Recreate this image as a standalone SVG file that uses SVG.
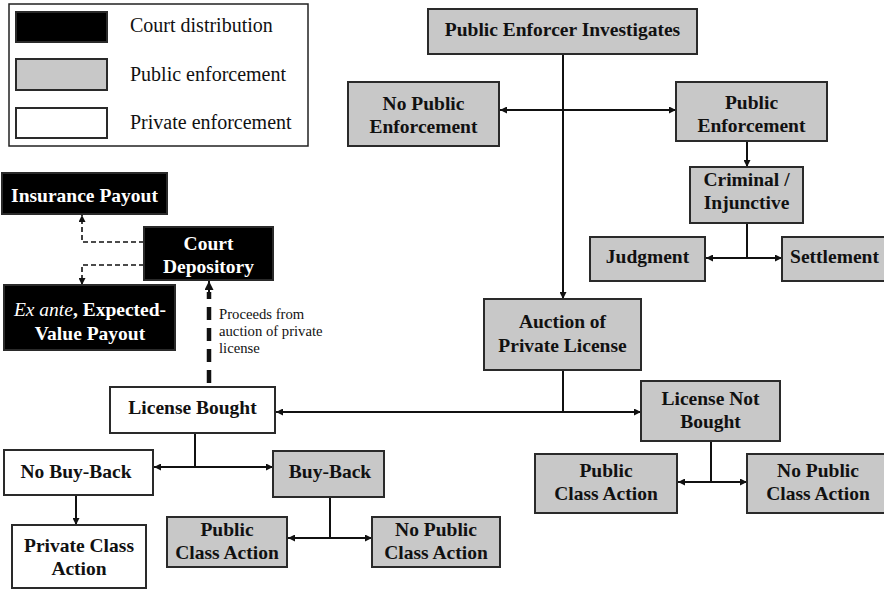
<svg xmlns="http://www.w3.org/2000/svg" width="884" height="589" viewBox="0 0 884 589">
<defs>
<style>
.box{stroke:#2a2a2a;stroke-width:2}
.g{fill:#c8c8c8}
.w{fill:#ffffff}
.k{fill:#000000}
.t{font-family:"Liberation Serif","Times New Roman",serif;font-size:19.5px;font-weight:bold;fill:#111;text-anchor:middle}
.tw{fill:#ffffff}
.lg{font-family:"Liberation Serif","Times New Roman",serif;font-size:20px;fill:#111}
.note{font-family:"Liberation Serif","Times New Roman",serif;font-size:14.7px;fill:#111}
.c{fill:none;stroke:#111;stroke-width:2}
.d{fill:none;stroke:#111;stroke-width:1.6;stroke-dasharray:5 3}
.dt{fill:none;stroke:#111;stroke-width:4.5;stroke-dasharray:13 8}
</style>
<marker id="a" viewBox="0 0 10 10" refX="10" refY="5" markerWidth="9" markerHeight="7" markerUnits="userSpaceOnUse" orient="auto-start-reverse">
<path d="M0,0 L10,5 L0,10 z" fill="#111"/>
</marker>
<marker id="ab" viewBox="0 0 10 10" refX="10" refY="5" markerWidth="10" markerHeight="9" markerUnits="userSpaceOnUse" orient="auto">
<path d="M0,0 L10,5 L0,10 z" fill="#111"/>
</marker>
</defs>
<rect width="884" height="589" fill="#ffffff"/>

<g id="legend">
<rect x="9" y="4" width="299" height="142" fill="#fff" stroke="#222" stroke-width="1.5"/>
<rect x="16" y="12" width="91" height="30" class="box k"/>
<rect x="16" y="59" width="91" height="31" class="box g"/>
<rect x="16" y="108" width="91" height="30" class="box w"/>
<text x="130" y="32" class="lg">Court distribution</text>
<text x="130" y="81" class="lg">Public enforcement</text>
<text x="130" y="129" class="lg">Private enforcement</text>
</g>

<g id="connectors">
<line x1="563" y1="55" x2="563" y2="299" class="c" marker-end="url(#a)"/>
<line x1="500" y1="110" x2="676" y2="110" class="c" marker-start="url(#a)" marker-end="url(#a)"/>
<line x1="747" y1="141" x2="747" y2="167" class="c" marker-end="url(#a)"/>
<line x1="747" y1="223" x2="747" y2="258" class="c"/>
<line x1="706" y1="258" x2="782" y2="258" class="c" marker-start="url(#a)" marker-end="url(#a)"/>
<line x1="563" y1="370" x2="563" y2="412" class="c"/>
<line x1="276" y1="412" x2="641" y2="412" class="c" marker-start="url(#a)" marker-end="url(#a)"/>
<line x1="711" y1="441" x2="711" y2="482" class="c"/>
<line x1="678" y1="482" x2="747" y2="482" class="c" marker-start="url(#a)" marker-end="url(#a)"/>
<line x1="195" y1="433" x2="195" y2="467" class="c"/>
<line x1="154" y1="467" x2="273" y2="467" class="c" marker-start="url(#a)" marker-end="url(#a)"/>
<line x1="76" y1="495" x2="76" y2="525" class="c" marker-end="url(#a)"/>
<line x1="330" y1="497" x2="330" y2="538" class="c"/>
<line x1="288" y1="538" x2="372" y2="538" class="c" marker-start="url(#a)" marker-end="url(#a)"/>
<line x1="209" y1="383" x2="209" y2="292" class="dt"/>
<line x1="209" y1="292" x2="209" y2="281" class="c" marker-end="url(#ab)"/>
<polyline points="144,242 82,242 82,215" class="d" marker-end="url(#a)"/>
<polyline points="144,265 82,265 82,285" class="d" marker-end="url(#a)"/>
</g>

<g id="insurance">
<rect x="2" y="173" width="165" height="41" class="box k"/>
<text x="84.5" y="202" class="t tw">Insurance Payout</text>
</g>
<g id="depository">
<rect x="144" y="227" width="129" height="53" class="box k"/>
<text x="208.5" y="250" class="t tw">Court</text>
<text x="208.5" y="273" class="t tw">Depository</text>
</g>
<g id="exante">
<rect x="4" y="285" width="171" height="65" class="box k"/>
<text x="90" y="316" class="t tw"><tspan font-style="italic" font-weight="normal">Ex ante</tspan>, Expected-</text>
<text x="90" y="340" class="t tw">Value Payout</text>
</g>
<g id="proceeds-note">
<text class="note"><tspan x="219" y="319">Proceeds from</tspan><tspan x="219" y="336">auction of private</tspan><tspan x="219" y="353">license</tspan></text>
</g>

<g id="investigates">
<rect x="428" y="9" width="269" height="45" class="box g"/>
<text x="562.5" y="36" class="t">Public Enforcer Investigates</text>
</g>
<g id="no-public-enforcement">
<rect x="348" y="82" width="151" height="64" class="box g"/>
<text x="423.5" y="110" class="t">No Public</text>
<text x="423.5" y="133" class="t">Enforcement</text>
</g>
<g id="public-enforcement">
<rect x="676" y="82" width="151" height="59" class="box g"/>
<text x="751.5" y="109" class="t">Public</text>
<text x="751.5" y="132" class="t">Enforcement</text>
</g>
<g id="criminal">
<rect x="690" y="167" width="113" height="56" class="box g"/>
<text x="746.5" y="186" class="t">Criminal /</text>
<text x="746.5" y="209" class="t">Injunctive</text>
</g>
<g id="judgment">
<rect x="590" y="237" width="115" height="44" class="box g"/>
<text x="647.5" y="263" class="t">Judgment</text>
</g>
<g id="settlement">
<rect x="782" y="237" width="104" height="44" class="box g"/>
<text x="834.5" y="263" class="t">Settlement</text>
</g>
<g id="auction">
<rect x="484" y="299" width="157" height="71" class="box g"/>
<text x="562.5" y="328" class="t">Auction of</text>
<text x="562.5" y="352" class="t">Private License</text>
</g>
<g id="license-not-bought">
<rect x="641" y="381" width="139" height="60" class="box g"/>
<text x="710.5" y="405" class="t">License Not</text>
<text x="710.5" y="428" class="t">Bought</text>
</g>
<g id="public-class-action-right">
<rect x="535" y="454" width="142" height="59" class="box g"/>
<text x="606" y="477" class="t">Public</text>
<text x="606" y="500" class="t">Class Action</text>
</g>
<g id="no-public-class-action-right">
<rect x="747" y="454" width="139" height="59" class="box g"/>
<text x="818" y="477" class="t">No Public</text>
<text x="818" y="500" class="t">Class Action</text>
</g>
<g id="license-bought">
<rect x="110" y="387" width="165" height="46" class="box w"/>
<text x="192.5" y="414" class="t">License Bought</text>
</g>
<g id="no-buy-back">
<rect x="4" y="450" width="149" height="45" class="box w"/>
<text x="76" y="478" class="t">No Buy-Back</text>
</g>
<g id="buy-back">
<rect x="273" y="451" width="111" height="46" class="box g"/>
<text x="330" y="478" class="t">Buy-Back</text>
</g>
<g id="private-class-action">
<rect x="12" y="525" width="134" height="63" class="box w"/>
<text x="79" y="552" class="t">Private Class</text>
<text x="79" y="575" class="t">Action</text>
</g>
<g id="public-class-action-bottom">
<rect x="167" y="517" width="120" height="50" class="box g"/>
<text x="227" y="536" class="t">Public</text>
<text x="227" y="559" class="t">Class Action</text>
</g>
<g id="no-public-class-action-bottom">
<rect x="372" y="517" width="128" height="50" class="box g"/>
<text x="436" y="536" class="t">No Public</text>
<text x="436" y="559" class="t">Class Action</text>
</g>
</svg>
